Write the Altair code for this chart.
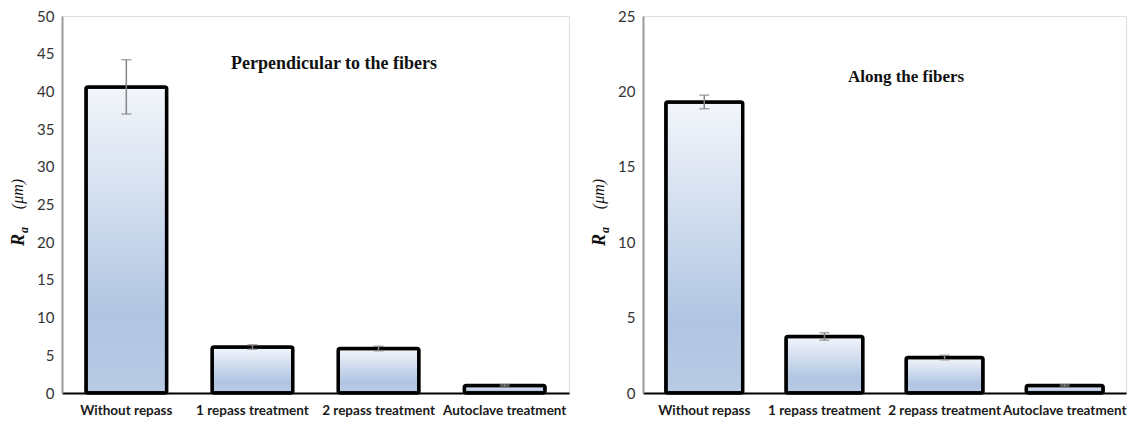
import altair as alt
import pandas as pd

categories = ["Without repass", "1 repass treatment", "2 repass treatment", "Autoclave treatment"]
perp_mean = [40.6, 6.1, 5.9, 1.0]
perp_err = [3.6, 0.3, 0.3, 0.1]
along_mean = [19.3, 3.75, 2.35, 0.5]
along_err = [0.45, 0.25, 0.15, 0.05]
perp_ticks = [0, 5, 10, 15, 20, 25, 30, 35, 40, 45, 50]
along_ticks = [0, 5, 10, 15, 20, 25]

LABEL_FONT = "Lato"
SERIF = "Liberation Serif"

grad = alt.Gradient(
    gradient="linear",
    stops=[
        alt.GradientStop(color="#f3f6fb", offset=0),
        alt.GradientStop(color="#b0c5e2", offset=0.75),
        alt.GradientStop(color="#b9cbe5", offset=1),
    ],
    x1=0, x2=0, y1=0, y2=1,
)


def panel(mean, err, ticks, title, tsize, tx, ty, width, height):
    df = pd.DataFrame({
        "cat": categories,
        "v": mean,
        "lo": [m - e for m, e in zip(mean, err)],
        "hi": [m + e for m, e in zip(mean, err)],
    })
    xaxis = alt.Axis(labelAngle=0, ticks=False, domainColor="black", domainWidth=2,
                     labelFont=LABEL_FONT, labelFontWeight="bold", labelFontSize=13.5,
                     labelColor="#1a1a1a", labelPadding=10, grid=False, labelOverlap=False)
    yaxis = alt.Axis(values=ticks, ticks=False, grid=False, domainColor="#9a9a9a",
                     domainWidth=2, labelFont=LABEL_FONT, labelFontSize=15,
                     labelColor="#333333", labelPadding=8, labelOverlap=False)
    xscale = alt.Scale(paddingInner=0.36, paddingOuter=0.19)
    yscale = alt.Scale(domain=[ticks[0], ticks[-1]], nice=False)

    def X():
        return alt.X("cat:N", sort=categories, title=None, scale=xscale, axis=xaxis)

    def Y(f):
        return alt.Y(f, title=None, scale=yscale, axis=yaxis)

    base = alt.Chart(df)
    bars = base.mark_bar(color=grad, stroke="black", strokeWidth=3.5, cornerRadius=2).encode(
        x=X(), y=Y("v:Q"))
    rule = base.mark_rule(color="#858585", strokeWidth=1.5).encode(x=X(), y=Y("lo:Q"), y2="hi:Q")
    cap_lo = base.mark_tick(color="#858585", thickness=1.5, size=10).encode(x=X(), y=Y("lo:Q"))
    cap_hi = base.mark_tick(color="#858585", thickness=1.5, size=10).encode(x=X(), y=Y("hi:Q"))

    one = pd.DataFrame({"t": [title]})
    ttl = alt.Chart(one).mark_text(font=SERIF, fontWeight="bold", fontSize=tsize, color="#111111").encode(
        text="t:N", x=alt.value(tx), y=alt.value(ty))
    r_txt = alt.Chart(pd.DataFrame({"t": ["R"]})).mark_text(
        font=SERIF, fontWeight="bold", fontStyle="italic", fontSize=18, angle=270, color="#111111").encode(
        text="t:N", x=alt.value(-43), y=alt.value(224))
    a_txt = alt.Chart(pd.DataFrame({"t": ["a"]})).mark_text(
        font=SERIF, fontWeight="bold", fontStyle="italic", fontSize=12, angle=270, color="#111111").encode(
        text="t:N", x=alt.value(-38), y=alt.value(214))
    um_txt = alt.Chart(pd.DataFrame({"t": ["(μm)"]})).mark_text(
        font=SERIF, fontStyle="italic", fontSize=16, angle=270, color="#111111").encode(
        text="t:N", x=alt.value(-44), y=alt.value(178))

    return alt.layer(bars, rule, cap_lo, cap_hi, ttl, r_txt, a_txt, um_txt).properties(
        width=width, height=height)


left = panel(perp_mean, perp_err, perp_ticks, "Perpendicular to the fibers", 18, 272, 48, 507, 377)
right = panel(along_mean, along_err, along_ticks, "Along the fibers", 17, 263, 61, 483, 377)

chart = alt.hconcat(left, right, spacing=74, bounds="flush").properties(
    padding={"left": 9, "top": 8, "right": 0, "bottom": 0}
).configure_view(stroke="#9a9a9a", strokeWidth=2).configure(background="white")

chart.save("out.html", embed_options={"renderer": "svg", "actions": False})
